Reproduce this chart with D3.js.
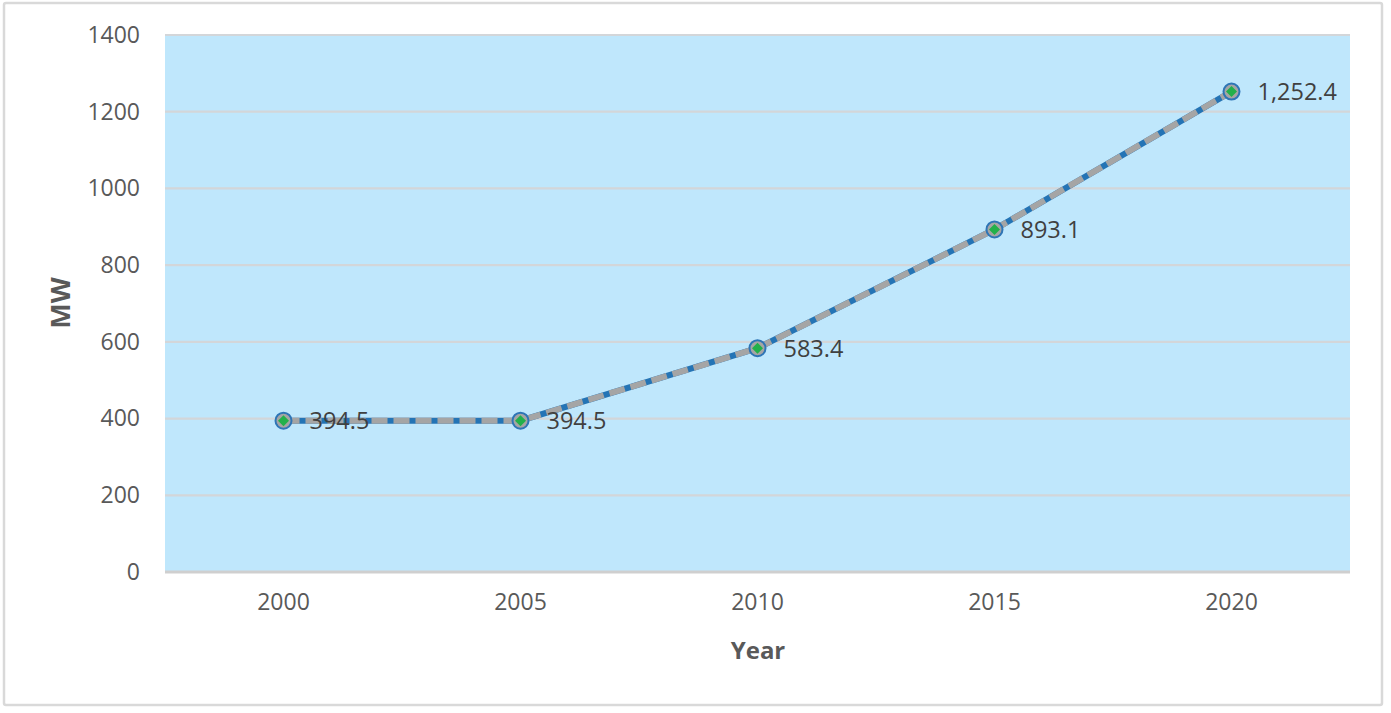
<!DOCTYPE html>
<html><head><meta charset="utf-8">
<script src="https://cdn.jsdelivr.net/npm/d3@7"></script>
<style>body{margin:0;background:#fff}svg{display:block}</style>
</head><body>
<svg id="c" width="1391" height="713"></svg>
<script>
const years = ["2000","2005","2010","2015","2020"];
const values = [394.5, 394.5, 583.4, 893.1, 1252.4];
const labels = ["394.5","394.5","583.4","893.1","1,252.4"];
const yTicks = [0,200,400,600,800,1000,1200,1400];

const svg = d3.select("#c");
const font = "'Open Sans', sans-serif";
svg.append("rect").attr("x",4).attr("y",3).attr("width",1378).attr("height",702)
  .attr("fill","#fff").attr("stroke","#d9d9d9").attr("stroke-width",2.5).attr("rx",2);

const L=165,R=1350,T=35,B=572;
const x = d3.scaleBand().domain(years).range([L,R]);
const y = d3.scaleLinear().domain([0,1400]).range([B,T]);
const cx = d => x(d)+x.bandwidth()/2;

svg.append("rect").attr("x",L).attr("y",T).attr("width",R-L).attr("height",B-T).attr("fill","#bfe7fc");

// grid
svg.append("g").selectAll("line").data(yTicks.filter(t=>t>0)).join("line")
  .attr("x1",L).attr("x2",R).attr("y1",d=>y(d)).attr("y2",d=>y(d))
  .attr("stroke","#d3d6d9").attr("stroke-width",2.2);
// x axis line
svg.append("line").attr("x1",L).attr("x2",R).attr("y1",B).attr("y2",B)
  .attr("stroke","#cfcfcf").attr("stroke-width",3);

// y axis
const ya = svg.append("g").attr("transform",`translate(${L},0)`)
  .call(d3.axisLeft(y).tickValues(yTicks).tickSize(0).tickPadding(25).tickFormat(d3.format("d")));
ya.select(".domain").remove();
ya.selectAll("text").attr("font-family",font).attr("font-size",23).attr("fill","#595959");

// x axis
const xa = svg.append("g").attr("transform",`translate(0,${B})`)
  .call(d3.axisBottom(x).tickSize(0).tickPadding(22));
xa.select(".domain").remove();
xa.selectAll("text").attr("font-family",font).attr("font-size",23).attr("fill","#595959");

// titles
svg.append("text").attr("transform","translate(70,303) rotate(-90)").attr("text-anchor","middle")
  .attr("font-family",font).attr("font-size",27).attr("font-weight","bold").attr("fill","#595959").text("MW");
svg.append("text").attr("x",758).attr("y",659).attr("text-anchor","middle")
  .attr("font-family",font).attr("font-size",24).attr("font-weight","bold").attr("fill","#595959").text("Year");

const pts = years.map((yr,i)=>({yr,v:values[i],l:labels[i]}));
const line = d3.line().x(d=>cx(d.yr)).y(d=>y(d.v));
svg.append("path").datum(pts).attr("d",line).attr("fill","none")
  .attr("stroke","#2474b5").attr("stroke-width",6);
svg.append("path").datum(pts).attr("d",line).attr("fill","none")
  .attr("stroke","#a5a5a5").attr("stroke-width",6).attr("stroke-dasharray","16,6");

const m = svg.append("g").selectAll("g").data(pts).join("g")
  .attr("transform",d=>`translate(${cx(d.yr)},${y(d.v)})`);
m.append("circle").attr("r",8).attr("fill","#a5a5a5").attr("stroke","#2e75b6").attr("stroke-width",2);
m.append("path").attr("d","M0,-5.5L5.5,0L0,5.5L-5.5,0Z").attr("fill","#22b04a");

svg.append("g").selectAll("text").data(pts).join("text")
  .attr("x",d=>cx(d.yr)+26).attr("y",d=>y(d.v)).attr("dy","0.36em")
  .attr("font-family",font).attr("font-size",23.5).attr("fill","#404040").text(d=>d.l);
</script>
</body></html>
